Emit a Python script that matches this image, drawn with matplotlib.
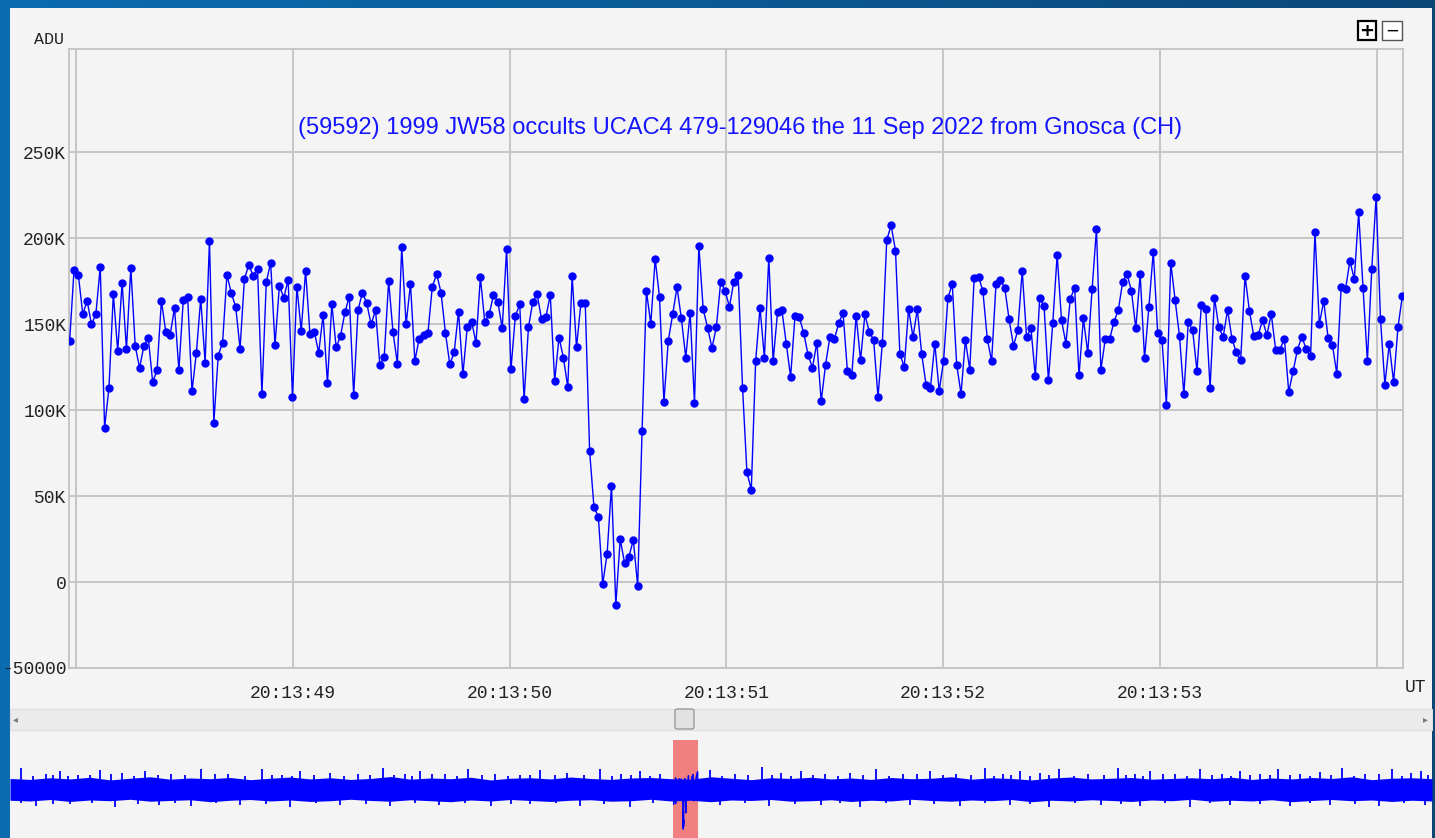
import numpy as np
import matplotlib
matplotlib.use("Agg")
import matplotlib.pyplot as plt
from matplotlib.patches import Rectangle, FancyBboxPatch
from matplotlib.colors import LinearSegmentedColormap

# ---------------- data ----------------
title = "(59592) 1999 JW58 occults UCAC4 479-129046 the 11 Sep 2022 from Gnosca (CH)"
t_start = 47.970        # seconds after 20:13:00 UT of first frame
frame_dt = 0.02016      # seconds per frame

adu_k = [
    140.3, 181.5, 178.4, 155.8, 163.6, 149.8, 155.8, 183.3, 89.7, 113.0, 167.7, 134.2, 174.1, 135.4, 182.9, 137.4,
    124.5, 137.4, 142.0, 116.3, 123.2, 163.6, 145.5, 143.6, 159.5, 123.2, 164.0, 166.0, 110.9, 133.3, 164.8,
    127.6, 198.4, 92.6, 131.7, 139.3, 178.8, 167.9, 160.1, 135.8, 176.3, 184.4, 178.2, 182.3, 109.1, 174.3, 185.8,
    137.7, 172.2, 165.4, 175.7, 107.4, 171.8, 146.1, 181.1, 144.0, 145.5, 133.3, 155.3, 115.8, 161.5, 136.4,
    143.2, 156.8, 166.0, 108.6, 158.2, 168.3, 162.1, 149.8, 158.2, 126.1, 131.1, 175.1, 145.5, 127.0, 194.6, 149.8,
    173.5, 128.6, 141.6, 143.6, 144.9, 171.8, 179.0, 168.3, 144.9, 126.7, 133.5, 157.2, 120.8, 148.4, 151.4,
    139.1, 177.2, 151.4, 155.6, 166.9, 163.0, 147.5, 193.8, 123.7, 154.7, 161.5, 106.2, 148.1, 163.0, 167.3, 152.7,
    154.3, 166.9, 116.9, 142.2, 130.5, 113.4, 178.0, 136.4, 162.1, 162.1, 76.1, 43.4, 38.1, -1.0, 16.3,
    56.0, -13.2, 24.9, 11.0, 14.8, 24.5, -2.3, 87.6, 169.3, 150.0, 187.9, 165.6, 104.7, 140.3, 155.6, 171.4,
    153.3, 130.5, 156.6, 104.1, 195.5, 158.6, 147.9, 136.2, 148.1, 174.7, 169.3, 160.1, 174.7, 178.6, 113.0,
    63.8, 53.7, 128.6, 159.5, 130.4, 188.7, 128.4, 156.8, 158.2, 138.7, 119.3, 154.7, 153.9, 144.9, 131.9, 124.7,
    139.3, 105.1, 126.5, 142.6, 141.1, 150.4, 156.6, 122.6, 120.2, 154.9, 129.0, 155.6, 145.5, 140.7, 107.6,
    139.3, 199.0, 207.4, 192.8, 132.9, 125.1, 158.8, 142.6, 158.6, 132.5, 114.8, 113.0, 138.7, 111.1, 128.6, 165.4,
    173.2, 126.5, 109.5, 140.7, 123.5, 176.7, 177.6, 169.3, 141.6, 128.4, 173.2, 175.7, 171.2, 152.7,
    137.4, 146.5, 180.9, 142.6, 147.5, 119.6, 165.0, 160.5, 117.3, 150.8, 190.3, 152.3, 138.7, 164.6, 171.2, 120.2,
    153.3, 133.3, 170.4, 205.4, 123.2, 141.1, 141.1, 151.4, 158.2, 174.7, 179.0, 169.3, 147.5, 179.0, 130.0,
    160.1, 192.2, 144.9, 140.7, 103.1, 185.8, 164.0, 143.0, 109.1, 151.0, 146.5, 122.8, 161.1, 158.6, 113.0, 165.4,
    148.1, 142.6, 158.2, 141.6, 133.5, 129.0, 178.0, 157.6, 143.0, 143.6, 152.3, 143.6, 155.8, 135.2, 135.2,
    141.6, 110.5, 122.6, 135.2, 142.6, 135.4, 131.3, 203.5, 150.0, 163.4, 142.2, 137.7, 121.2, 171.8, 170.4, 186.8,
    176.1, 215.0, 171.2, 128.6, 181.9, 223.9, 152.7, 114.8, 138.3, 116.3, 148.1, 166.3,
]

x_ticks = [48, 49, 50, 51, 52, 53, 54]
x_labels = ["", "20:13:49", "20:13:50", "20:13:51", "20:13:52", "20:13:53", ""]
y_ticks = [-50000, 0, 50000, 100000, 150000, 200000, 250000]
y_labels = ["-50000", "0", "50K", "100K", "150K", "200K", "250K"]

# overview of the whole recording (thousand ADU), position as fraction of the recording
ov_core_hi_k = [196, 192, 199, 194, 201, 190, 197, 203, 193, 198, 195, 200, 191, 197, 202, 194, 199, 192, 196, 204,
                193, 198, 195, 201, 190, 197, 199, 194, 202, 196, 192, 198, 200, 195, 193, 203, 197, 191, 199, 196,
                201, 194, 198, 192, 200, 195, 197, 203, 193, 199, 196, 190, 198, 202, 194, 197, 200, 193, 196, 199,
                195, 201, 192, 198, 194, 200, 196, 203, 191, 197, 199, 195]
ov_core_lo_k = [106, 103, 109, 101, 107, 104, 110, 102, 105, 108, 100, 106, 109, 103, 107, 101, 104, 110, 105, 102,
                108, 104, 100, 107, 103, 109, 105, 101, 106, 108, 102, 104, 110, 103, 106, 100, 107, 105, 109, 102,
                104, 108, 101, 106, 103, 110, 105, 102, 107, 104, 109, 100, 106, 103, 108, 105, 101, 107, 104, 110,
                102, 106, 103, 108, 100, 105, 109, 104, 107, 101, 106, 103]
ov_up_pos = [0.008, 0.025, 0.035, 0.048, 0.063, 0.079, 0.095, 0.113, 0.134, 0.153, 0.177, 0.191, 0.204, 0.225,
             0.245, 0.262, 0.278, 0.288, 0.306, 0.322, 0.341, 0.359, 0.373, 0.392, 0.415, 0.430, 0.443, 0.457,
             0.492, 0.510, 0.529, 0.542, 0.556, 0.573, 0.591, 0.609, 0.628, 0.647, 0.665, 0.686, 0.698, 0.710,
             0.724, 0.738, 0.758, 0.779, 0.791, 0.802, 0.819, 0.837, 0.852, 0.865, 0.879, 0.892, 0.907, 0.921,
             0.937, 0.953, 0.972, 0.985, 0.992,
             0.016, 0.030, 0.041, 0.056, 0.071, 0.087, 0.104, 0.123, 0.144, 0.165, 0.184, 0.198, 0.214, 0.235,
             0.253, 0.270, 0.283, 0.297, 0.314, 0.332, 0.350, 0.366, 0.383, 0.404, 0.423, 0.437, 0.450, 0.480,
             0.501, 0.519, 0.536, 0.549, 0.565, 0.582, 0.600, 0.618, 0.638, 0.656, 0.676, 0.692, 0.704, 0.717,
             0.731, 0.748, 0.769, 0.785, 0.797, 0.811, 0.828, 0.845, 0.859, 0.872, 0.886, 0.900, 0.914, 0.929,
             0.945, 0.963, 0.979, 0.997]
ov_up_k = [238, 215, 226, 212, 232, 218, 228, 214, 236, 216, 234, 212, 226, 218, 213, 238, 215, 228, 214, 236,
           216, 212, 232, 218, 234, 214, 226, 216, 230, 214, 242, 218, 228, 214, 218, 236, 215, 228, 216, 240,
           214, 226, 218, 234, 215, 238, 214, 228, 216, 234, 214, 226, 216, 236, 214, 222, 240, 216, 236, 218, 228,
           208, 212, 206, 210, 214, 207, 211, 209, 213, 206, 210, 208, 212, 207, 211, 209, 206, 213, 208, 210,
           207, 212, 209, 211, 206, 210, 208, 213, 207, 211, 209, 206, 212, 208, 210, 207, 213, 209, 211, 206,
           210, 208, 212, 207, 211, 209, 206, 213, 208, 210, 207, 212, 209, 211, 206, 210, 208, 213, 207, 211]
ov_dn_pos = [0.018, 0.042, 0.074, 0.105, 0.127, 0.162, 0.197, 0.232, 0.267, 0.302, 0.338, 0.366, 0.401, 0.436,
             0.499, 0.534, 0.570, 0.598, 0.633, 0.668, 0.703, 0.731, 0.767, 0.795, 0.830, 0.858, 0.900, 0.928,
             0.963, 0.995,
             0.008, 0.030, 0.058, 0.090, 0.116, 0.145, 0.180, 0.215, 0.250, 0.285, 0.320, 0.352, 0.384, 0.418,
             0.452, 0.517, 0.552, 0.584, 0.616, 0.650, 0.686, 0.717, 0.749, 0.781, 0.812, 0.844, 0.879, 0.914,
             0.946, 0.980]
ov_dn_k = [84, 90, 80, 88, 82, 86, 80, 88, 83, 87, 81, 89, 84, 80, 86, 82, 88, 80, 85, 82,
           88, 80, 86, 83, 80, 87, 82, 88, 81, 85,
           94, 92, 95, 91, 93, 96, 92, 94, 90, 95, 93, 91, 96, 92, 94, 95, 91, 93, 96, 90,
           94, 92, 95, 91, 93, 96, 92, 94, 90, 95]

# ---------------- figure ----------------
W, H = 1435, 838
fig = plt.figure(figsize=(W / 100, H / 100), dpi=100)

def fx(px):
    return px / W

def fy(py):
    return 1 - py / H

# blue window background
bg = fig.add_axes([0, 0, 1, 1], zorder=-10)
cm = LinearSegmentedColormap.from_list("bg", ["#0b6cb0", "#0a5a96", "#0a4676"])
bg.imshow(np.linspace(0, 1, 256).reshape(1, -1), aspect="auto", cmap=cm, extent=[0, 1, 0, 1])
bg.set_axis_off()

fig.patches.append(Rectangle((fx(10), 0), fx(1422), 830 / H, transform=fig.transFigure,
                             facecolor="#f4f4f4", edgecolor="none", zorder=-5))

# main axes
t = t_start + frame_dt * np.arange(len(adu_k))
vals = np.array(adu_k) * 1000.0

ax = fig.add_axes([fx(69), fy(668), fx(1403 - 69), (668 - 49) / H])
ax.set_facecolor("#f4f4f4")
ax.plot(t, vals, "-o", color="#0000ff", lw=1.0, ms=5.0, zorder=3)
ax.set_xlim(t[0] - 0.003, t[-1] + 0.003)
ax.set_ylim(-50000, 310000)
ax.set_xticks(x_ticks)
ax.set_xticklabels(x_labels)
ax.set_yticks(y_ticks)
ax.set_yticklabels(y_labels)
ax.grid(True, color="#c3c3c3", lw=1.3)
for s in ax.spines.values():
    s.set_color("#c3c3c3")
    s.set_linewidth(1.3)
mono = "Liberation Mono"
ax.tick_params(axis="both", length=0, labelsize=13, labelcolor="#222222")
ax.tick_params(axis="x", pad=12)
ax.tick_params(axis="y", pad=2)
for lab in ax.get_xticklabels() + ax.get_yticklabels():
    lab.set_family(mono)

ax.text(0.503, 0.872, title, transform=ax.transAxes, ha="center", va="center",
        fontsize=17, family="Liberation Sans", color="#1414ff")

fig.text(fx(49), fy(40), "ADU", ha="center", va="center", fontsize=12, family=mono, color="#222222")
fig.text(fx(1415), fy(688), "UT", ha="center", va="center", fontsize=13, family=mono, color="#222222")

# zoom buttons
fig.patches.append(Rectangle((fx(1358), fy(40)), fx(18), 19 / H, transform=fig.transFigure,
                             facecolor="white", edgecolor="black", lw=1.6))
fig.text(fx(1367), fy(30.5), "+", ha="center", va="center", fontsize=13, color="black", weight="bold")
fig.patches.append(Rectangle((fx(1382), fy(40)), fx(20), 19 / H, transform=fig.transFigure,
                             facecolor="white", edgecolor="#555555", lw=1.0))
fig.text(fx(1392), fy(30.5), "\u2212", ha="center", va="center", fontsize=12, color="black")

# scrollbar
fig.patches.append(Rectangle((fx(10), fy(730)), fx(1422), 21 / H, transform=fig.transFigure,
                             facecolor="#ebebeb", edgecolor="#dedede", lw=0.8))
fig.text(fx(15), fy(719), "\u25c2", ha="center", va="center", fontsize=7, color="#777777")
fig.text(fx(1425), fy(719), "\u25b8", ha="center", va="center", fontsize=7, color="#777777")
fig.patches.append(FancyBboxPatch((fx(675), fy(729)), fx(19), 20 / H, boxstyle="round,pad=0,rounding_size=0.002",
                                  transform=fig.transFigure, facecolor="#e2e2e2", edgecolor="#9a9a9a", lw=1.0))

# overview
ov = fig.add_axes([fx(10), 0, fx(1422), 98 / H])
ov.set_axis_off()
ov_span = (t[-1] - t[0]) * 1422 / 25.0
ov_x0 = t[0] - (673 - 10) / 1422 * ov_span
ov.set_xlim(ov_x0, ov_x0 + ov_span)
ov.set_ylim(-50000, 355000)
ov.axvspan(t[0], t[-1], color="#f08080", lw=0, zorder=1)
ox = ov_x0 + ov_span * np.linspace(0, 1, len(ov_core_hi_k))
ov.fill_between(ox, np.array(ov_core_lo_k) * 1000, np.array(ov_core_hi_k) * 1000,
                color="#0000ff", lw=0, zorder=2)
up_x = ov_x0 + ov_span * np.array(ov_up_pos)
dn_x = ov_x0 + ov_span * np.array(ov_dn_pos)
ov.vlines(up_x, 150000, np.array(ov_up_k) * 1000, color="#0000ff", lw=1.3, zorder=2)
ov.vlines(dn_x, 150000, np.array(ov_dn_k) * 1000, color="#0000ff", lw=1.3, zorder=2)
ov.plot(t, vals, color="#0000ff", lw=1.0, zorder=3)

fig.savefig("out.png", dpi=100)
